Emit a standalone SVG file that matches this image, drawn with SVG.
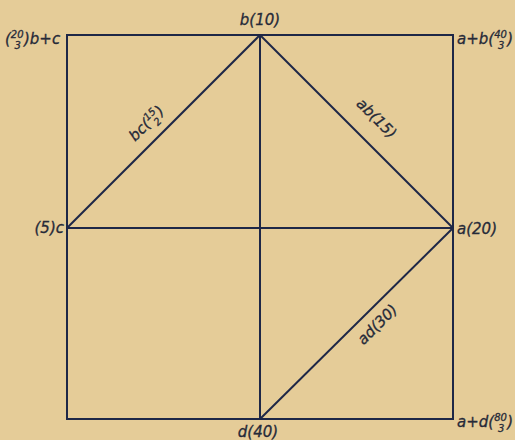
<svg xmlns="http://www.w3.org/2000/svg" width="515" height="440" viewBox="0 0 515 440">
<style>
.bg{fill:#e5cc98}
.ln{stroke:#1e2747;stroke-width:2;fill:none}
.t{font-family:"DejaVu Sans","Liberation Sans",sans-serif;font-style:italic;font-size:15px;fill:#262a38;stroke:#262a38;stroke-width:0.3}
.f{font-size:10px}
</style>
<rect class="bg" x="0" y="0" width="515" height="440"/>
<g id="connectors">
<rect class="ln" x="67" y="35" width="386" height="384"/>
<line class="ln" x1="260" y1="35" x2="260" y2="419"/>
<line class="ln" x1="67" y1="228" x2="453" y2="228"/>
<line class="ln" x1="67" y1="228" x2="260" y2="35"/>
<line class="ln" x1="260" y1="35" x2="453" y2="228"/>
<line class="ln" x1="453" y1="228" x2="260" y2="419"/>
</g>
<g id="node-bc-sum"><text class="t" x="5" y="44">(<tspan class="f" dy="-6">20</tspan><tspan class="f" dx="-9" dy="11">3</tspan><tspan dx="3" dy="-5">)b+c</tspan></text></g>
<g id="node-b"><text class="t" x="260" y="25" text-anchor="middle">b(10)</text></g>
<g id="node-ab-sum"><text class="t" x="457" y="44">a+b(<tspan class="f" dy="-6">40</tspan><tspan class="f" dx="-9" dy="11">3</tspan><tspan dx="3" dy="-5">)</tspan></text></g>
<g id="node-c"><text class="t" x="64" y="233" text-anchor="end">(5)c</text></g>
<g id="node-a"><text class="t" x="457" y="234">a(20)</text></g>
<g id="node-d"><text class="t" x="258" y="437" text-anchor="middle">d(40)</text></g>
<g id="node-ad-sum"><text class="t" x="457" y="427">a+d(<tspan class="f" dy="-6">80</tspan><tspan class="f" dx="-9" dy="11">3</tspan><tspan dx="3" dy="-5">)</tspan></text></g>
<g id="label-bc"><text class="t" transform="translate(150,127) rotate(-45)" text-anchor="middle">bc(<tspan class="f" dy="-6">15</tspan><tspan class="f" dx="-9" dy="11">2</tspan><tspan dx="3" dy="-5">)</tspan></text></g>
<g id="label-ab"><text class="t" transform="translate(373,122) rotate(45)" text-anchor="middle">ab(15)</text></g>
<g id="label-ad"><text class="t" transform="translate(381,328) rotate(-45)" text-anchor="middle">ad(30)</text></g>
</svg>
